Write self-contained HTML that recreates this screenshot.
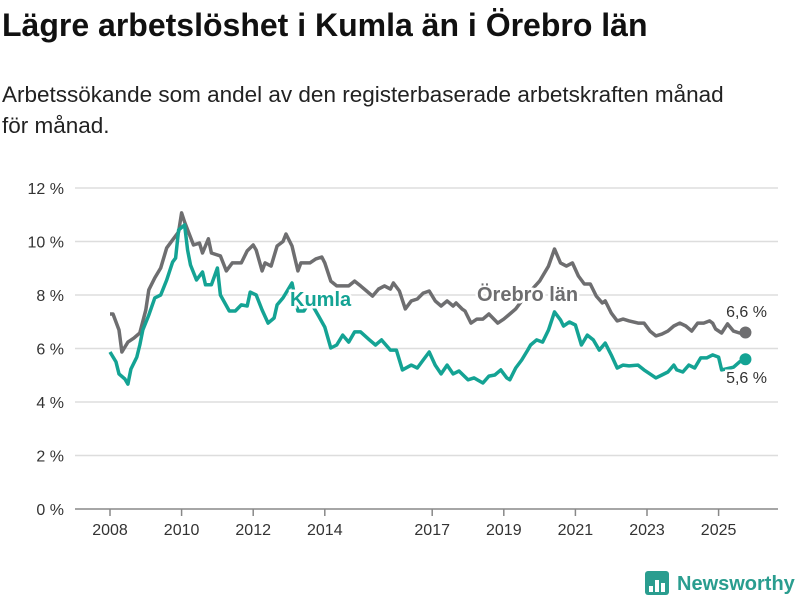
<!DOCTYPE html>
<html><head><meta charset="utf-8"><style>
body{margin:0;background:#fff;font-family:"Liberation Sans",sans-serif;}
#wrap{position:relative;width:800px;height:600px;overflow:hidden;}
h1{position:absolute;left:2px;top:7px;margin:0;font-size:32px;font-weight:bold;color:#111;white-space:nowrap;}
p{position:absolute;left:2px;top:79px;margin:0;font-size:22.5px;line-height:31px;color:#222;width:735px;}
</style></head><body>
<div id="wrap">
<h1>Lägre arbetslöshet i Kumla än i Örebro län</h1>
<p>Arbetssökande som andel av den registerbaserade arbetskraften månad för månad.</p>
<svg id="chart" width="800" height="600" style="position:absolute;left:0;top:0"></svg>
</div>
<script>
const yTicks=[0,2,4,6,8,10,12];
const yTickLabels=["0 %","2 %","4 %","6 %","8 %","10 %","12 %"];
const xTickYears=[2008,2010,2012,2014,2017,2019,2021,2023,2025];
const orebroMonths=[0,1,3,4,6,8,10,12,13,15,17,19,21,23,24,25,28,30,31,33,34,37,39,41,44,46,48,49,51,52,54,56,58,59,61,63,64,67,69,71,72,74,76,78,80,82,84,86,88,90,92,94,95,97,99,101,103,105,107,109,111,113,115,116,118,119,121,123,125,127,130,132,134,136,138,141,144,147,149,151,153,155,157,159,161,163,165,166,168,170,172,174,177,179,181,183,185,187,189,191,193,195,197,199,201,202,203,205,207,209,211,213];
const orebroValues=[7.29,7.29,6.69,5.87,6.24,6.39,6.58,7.44,8.19,8.64,9.01,9.76,10.06,10.36,11.07,10.73,9.87,9.94,9.57,10.1,9.57,9.46,8.9,9.2,9.2,9.65,9.87,9.68,8.9,9.2,9.08,9.83,10.0,10.28,9.83,8.9,9.2,9.2,9.35,9.42,9.2,8.52,8.34,8.34,8.34,8.52,8.34,8.15,7.96,8.22,8.34,8.22,8.45,8.15,7.48,7.78,7.85,8.07,8.15,7.78,7.59,7.78,7.59,7.7,7.48,7.4,6.95,7.1,7.1,7.29,6.95,7.1,7.29,7.48,7.78,8.15,8.52,9.08,9.72,9.2,9.08,9.2,8.71,8.41,8.41,7.96,7.7,7.78,7.33,7.03,7.1,7.03,6.95,6.95,6.65,6.47,6.54,6.65,6.84,6.95,6.84,6.65,6.95,6.95,7.03,6.95,6.73,6.58,6.92,6.65,6.58,6.6];
const kumlaMonths=[0,2,3,5,6,7,9,10,11,13,15,17,19,21,22,23,25,26,27,29,31,32,34,36,37,40,42,44,46,47,49,51,53,55,56,58,60,61,63,65,67,70,72,74,76,78,80,82,84,87,89,91,94,96,98,101,103,105,107,109,111,113,115,117,120,122,125,127,129,131,133,134,136,138,140,141,143,145,147,149,151,152,154,156,158,160,162,164,166,168,170,172,174,177,179,181,183,185,187,189,190,192,194,196,198,200,202,204,205,209,211,213];
const kumlaValues=[5.87,5.5,5.05,4.86,4.67,5.23,5.68,6.13,6.69,7.25,7.89,8.0,8.56,9.23,9.38,10.43,10.62,9.68,9.12,8.56,8.86,8.38,8.38,9.01,8.0,7.4,7.4,7.63,7.59,8.11,8.0,7.44,6.95,7.14,7.63,7.89,8.26,8.45,7.4,7.4,7.78,7.2,6.8,6.02,6.13,6.5,6.24,6.62,6.62,6.32,6.13,6.32,5.94,5.94,5.2,5.38,5.27,5.57,5.87,5.38,5.05,5.38,5.05,5.16,4.83,4.9,4.71,4.97,5.01,5.2,4.9,4.83,5.27,5.57,5.94,6.13,6.32,6.24,6.69,7.37,7.07,6.84,6.99,6.88,6.13,6.5,6.32,5.94,6.2,5.76,5.27,5.38,5.35,5.38,5.2,5.05,4.9,5.01,5.12,5.38,5.2,5.12,5.38,5.27,5.65,5.65,5.76,5.68,5.2,5.3,5.5,5.6];

const svg=document.getElementById('chart');
const NS='http://www.w3.org/2000/svg';
const yScale=v=>509-v*26.75;
const xScale=m=>110+m*(35.8/12);
function mk(tag,attrs,parent){const e=document.createElementNS(NS,tag);for(const k in attrs)e.setAttribute(k,attrs[k]);(parent||svg).appendChild(e);return e;}

yTicks.forEach((t,i)=>{
  const l=mk('line',{x1:75,x2:778,y1:yScale(t),y2:yScale(t),stroke:t===0?'#888':'#ddd','stroke-width':1.5});
  
  
  const tx=mk('text',{x:64,y:yScale(t)+6,'text-anchor':'end','font-size':16,fill:'#333'});
  tx.textContent=yTickLabels[i];
  
  
});
xTickYears.forEach(y=>{
  const x=xScale((y-2008)*12);
  const tk=mk('line',{x1:x,x2:x,y1:509,y2:516,stroke:'#888','stroke-width':1.5});
  
  
  const tx=mk('text',{x:x,y:535,'text-anchor':'middle','font-size':16,fill:'#333'});
  tx.textContent=y;
  
  
});
function series(months,vals,color,name){
  const d=months.map((m,i)=>(i?'L':'M')+xScale(m).toFixed(1)+','+yScale(vals[i]).toFixed(1)).join('');
  const p=mk('path',{d:d,fill:'none',stroke:color,'stroke-width':3.5,'stroke-linejoin':'round'});
  
  
  const n=months.length-1;
  const c=mk('circle',{cx:xScale(months[n]),cy:yScale(vals[n]),r:6,fill:color});
  
  
}
series(orebroMonths,orebroValues,'#6e6e70','orebro');
series(kumlaMonths,kumlaValues,'#14a394','kumla');
function label(x,y,txt,color,size,weight,name,anchor){
  const t=mk('text',{x:x,y:y,'font-size':size,'font-weight':weight,fill:color,stroke:'#fff','stroke-width':5,'paint-order':'stroke','text-anchor':anchor||'start'});
  t.textContent=txt;
  
  
}
label(290,306,'Kumla','#14a394',20,'bold','kumla-series-label');
label(477,301,'Örebro län','#6e6e70',20,'bold','orebro-series-label');
const nO=orebroValues.length-1,nK=kumlaValues.length-1;
label(767,317,orebroValues[nO].toFixed(1).replace('.',',')+' %','#333',16,'normal','orebro-end-value','end');
label(767,383,kumlaValues[nK].toFixed(1).replace('.',',')+' %','#333',16,'normal','kumla-end-value','end');

const g=mk('g',{});


mk('rect',{x:645,y:571,width:24,height:24,rx:3,fill:'#2a9d8f'},g);
[[649,586,4,6],[655,580,4,12],[661,583,4,9]].forEach(r=>mk('rect',{x:r[0],y:r[1],width:r[2],height:r[3],fill:'#fff'},g));
const lt=mk('text',{x:677,y:590,'font-size':20,'font-weight':'bold',fill:'#2a9d8f'},g);
lt.textContent='Newsworthy';


</script>
</body></html>
